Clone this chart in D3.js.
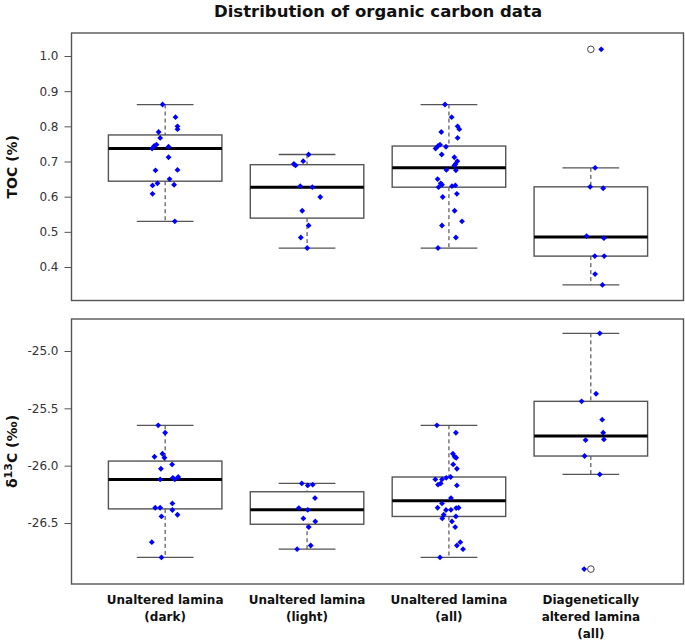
<!DOCTYPE html>
<html><head><meta charset="utf-8">
<script src="https://cdn.jsdelivr.net/npm/d3@7"></script>
<style>body{margin:0;background:#fff} svg{display:block}</style>
</head><body>
<script>
// ---- data ----
const title = "Distribution of organic carbon data";
const categories = [["Unaltered lamina","(dark)"],["Unaltered lamina","(light)"],["Unaltered lamina","(all)"],["Diagenetically","altered lamina","(all)"]];
const tocTicks = [0.4,0.5,0.6,0.7,0.8,0.9,1.0];
const d13cTicks = [-26.5,-26.0,-25.5,-25.0];

const tocDark = [0.862,0.826,0.800,0.792,0.784,0.767,0.737,0.744,0.748,0.742,0.712,0.675,0.676,0.650,0.638,0.632,0.634,0.608,0.530];
const tocDarkJitter = [-0.018,0.073,0.087,0.087,-0.046,-0.035,-0.092,-0.077,-0.061,0.024,0.024,-0.068,0.087,0.031,-0.054,-0.089,0.063,-0.089,0.068];
const tocLight = [0.720,0.701,0.693,0.689,0.630,0.627,0.599,0.560,0.518,0.484,0.454];
const tocLightJitter = [0.011,-0.027,-0.093,-0.081,-0.048,0.037,0.093,-0.034,0.011,-0.044,0.001];
const tocAll = [0.862,0.826,0.800,0.792,0.784,0.767,0.737,0.744,0.748,0.742,0.720,0.712,0.701,0.693,0.689,0.676,0.675,0.650,0.638,0.634,0.627,0.630,0.632,0.599,0.608,0.560,0.530,0.518,0.484,0.454];
const tocAllJitter = [-0.028,0.019,0.061,0.073,-0.054,0.061,-0.094,-0.077,-0.063,-0.021,-0.051,0.038,0.059,0.047,0.038,-0.018,0.049,-0.080,-0.058,-0.049,-0.073,0.021,0.045,-0.044,0.056,0.040,0.092,-0.049,0.049,-0.077];
const tocAltered = [1.019,0.682,0.628,0.624,0.488,0.482,0.431,0.431,0.380,0.349];
const tocAlteredJitter = [0.073,0.030,-0.005,0.087,-0.030,0.092,0.028,0.094,0.030,0.082];

const d13cDark = [-25.648,-25.713,-25.896,-25.922,-25.931,-25.989,-26.027,-26.120,-26.106,-26.120,-26.099,-26.367,-26.367,-26.329,-26.387,-26.428,-26.443,-26.667,-26.800];
const d13cDarkJitter = [-0.049,0,-0.019,-0.075,-0.005,0.049,-0.030,-0.035,0.054,0.068,0.092,-0.070,-0.035,0.051,0.051,0.087,-0.026,-0.094,-0.026];
const d13cLight = [-26.155,-26.172,-26.166,-26.283,-26.370,-26.385,-26.460,-26.486,-26.536,-26.696,-26.728];
const d13cLightJitter = [-0.037,0.005,0.040,0.056,-0.058,0.005,-0.026,0.058,0.012,0.026,-0.070];
const d13cAll = [-25.648,-25.713,-25.896,-25.922,-25.931,-25.989,-26.027,-26.099,-26.106,-26.120,-26.120,-26.155,-26.166,-26.172,-26.283,-26.329,-26.367,-26.367,-26.370,-26.385,-26.387,-26.428,-26.443,-26.460,-26.486,-26.536,-26.667,-26.696,-26.728,-26.800];
const d13cAllJitter = [-0.085,0.049,0.028,0.040,0.051,0.030,0.056,0.012,-0.019,-0.049,-0.096,-0.058,-0.077,0.056,0.014,-0.049,-0.080,0.068,0.051,0.014,-0.021,-0.037,0.049,-0.047,0.021,0.044,0.080,0.056,0.099,-0.063];
const d13cAltered = [-24.846,-25.373,-25.439,-25.599,-25.713,-25.777,-25.771,-25.916,-26.076,-26.902];
const d13cAlteredJitter = [0.063,0.037,-0.065,0.080,0.087,-0.037,0.092,-0.044,0.063,-0.047];

// ---- helpers ----
function fivenum(v){
  const s=v.slice().sort((a,b)=>a-b), n=s.length;
  const n4=Math.floor((n+3)/2)/2;
  return [1,n4,(n+1)/2,n+1-n4,n].map(k=>0.5*(s[Math.floor(k)-1]+s[Math.ceil(k)-1]));
}
function boxStats(v){
  const f=fivenum(v), iqr=f[3]-f[1];
  const lo=f[1]-1.5*iqr, hi=f[3]+1.5*iqr;
  const inside=v.filter(d=>d>=lo&&d<=hi);
  return {q1:f[1],med:f[2],q3:f[3],wlo:d3.min(inside),whi:d3.max(inside),out:v.filter(d=>d<lo||d>hi)};
}

const W=685,H=644;
const FONT="'DejaVu Sans', Verdana, sans-serif";
const svg=d3.select("body").append("svg").attr("width",W).attr("height",H);
const x=d3.scaleLinear().domain([0.34,4.66]).range([71.5,684.5]);
const boxW=x(0.8)-x(0);

svg.append("text").attr("x",378).attr("y",17).attr("text-anchor","middle")
  .attr("font-family",FONT).attr("font-weight","bold").attr("font-size",16.5).attr("fill","#111").text(title);

const panels=[
  {series:[tocDark,tocLight,tocAll,tocAltered], jit:[tocDarkJitter,tocLightJitter,tocAllJitter,tocAlteredJitter],
   y:d3.scaleLinear().domain([0.3048,1.0654]).range([300.5,33]), ticks:tocTicks, label:"toc"},
  {series:[d13cDark,d13cLight,d13cAll,d13cAltered], jit:[d13cDarkJitter,d13cLightJitter,d13cAllJitter,d13cAlteredJitter],
   y:d3.scaleLinear().domain([-27.032,-24.721]).range([584,319]), ticks:d13cTicks, label:"d13c"}
];

panels.forEach(p=>{
  const y=p.y, g=svg.append("g");
  const [y0,y1]=y.range();
  const ax=g.append("g").attr("transform",`translate(${x.range()[0]},0)`)
    .call(d3.axisLeft(y).tickValues(p.ticks).tickFormat(d3.format(".1f")).tickSize(7).tickPadding(6));
  ax.select(".domain").remove();
  ax.selectAll(".tick line").attr("stroke","#555").attr("stroke-width",1);
  ax.selectAll(".tick text").attr("font-family",FONT).attr("font-size",12).attr("fill","#333")
    .text(d=>d3.format(".1f")(d).replace("−","-"));

  p.series.forEach((v,i)=>{
    const c=i+1, st=boxStats(v), cx=x(c);
    g.append("line").attr("x1",cx).attr("x2",cx).attr("y1",y(st.whi)).attr("y2",y(st.q3))
      .attr("stroke","#333").attr("stroke-dasharray","4,3");
    g.append("line").attr("x1",cx).attr("x2",cx).attr("y1",y(st.q1)).attr("y2",y(st.wlo))
      .attr("stroke","#333").attr("stroke-dasharray","4,3");
    [st.whi,st.wlo].forEach(w=>g.append("line").attr("x1",x(c-0.2)).attr("x2",x(c+0.2))
      .attr("y1",y(w)).attr("y2",y(w)).attr("stroke","#555").attr("stroke-width",1.3));
    g.append("rect").attr("x",x(c-0.4)).attr("width",boxW).attr("y",y(st.q3)).attr("height",y(st.q1)-y(st.q3))
      .attr("fill","none").attr("stroke","#555").attr("stroke-width",1.4);
    g.append("line").attr("x1",x(c-0.4)).attr("x2",x(c+0.4)).attr("y1",y(st.med)).attr("y2",y(st.med))
      .attr("stroke","#000").attr("stroke-width",3);
    st.out.forEach(o=>g.append("circle").attr("cx",cx).attr("cy",y(o)).attr("r",3.3)
      .attr("fill","none").attr("stroke","#444").attr("stroke-width",1));
  });
  p.series.forEach((v,i)=>{
    const c=i+1;
    g.selectAll(null).data(v.map((d,k)=>({v:d,j:p.jit[i][k]}))).join("path")
      .attr("d",d3.symbol().type(d3.symbolSquare).size(17))
      .attr("transform",d=>`translate(${x(c+d.j)},${y(d.v)}) rotate(45)`)
      .attr("fill","#0000ff");
  });
  g.append("rect").attr("x",x.range()[0]).attr("y",y1).attr("width",x.range()[1]-x.range()[0]-1).attr("height",y0-y1)
    .attr("fill","none").attr("stroke","#555").attr("stroke-width",1.4);
});

svg.append("text").attr("transform",`translate(17,${(33+300.5)/2}) rotate(-90)`).attr("text-anchor","middle")
  .attr("font-family",FONT).attr("font-weight","bold").attr("font-size",14).attr("fill","#111").text("TOC (%)");
const t2=svg.append("text").attr("transform",`translate(17,${(319+584)/2}) rotate(-90)`).attr("text-anchor","middle")
  .attr("font-family",FONT).attr("font-weight","bold").attr("font-size",14).attr("fill","#111");
t2.append("tspan").text("δ");
t2.append("tspan").attr("font-size",11).attr("dy",-5).text("13");
t2.append("tspan").attr("dy",5).text("C (‰)");

categories.forEach((lines,i)=>{
  const t=svg.append("text").attr("text-anchor","middle").attr("font-family",FONT)
    .attr("font-weight","bold").attr("font-size",12).attr("fill","#111");
  lines.forEach((l,k)=>t.append("tspan").attr("x",x(i+1)).attr("y",604+k*17).text(l));
});
</script>
</body></html>
